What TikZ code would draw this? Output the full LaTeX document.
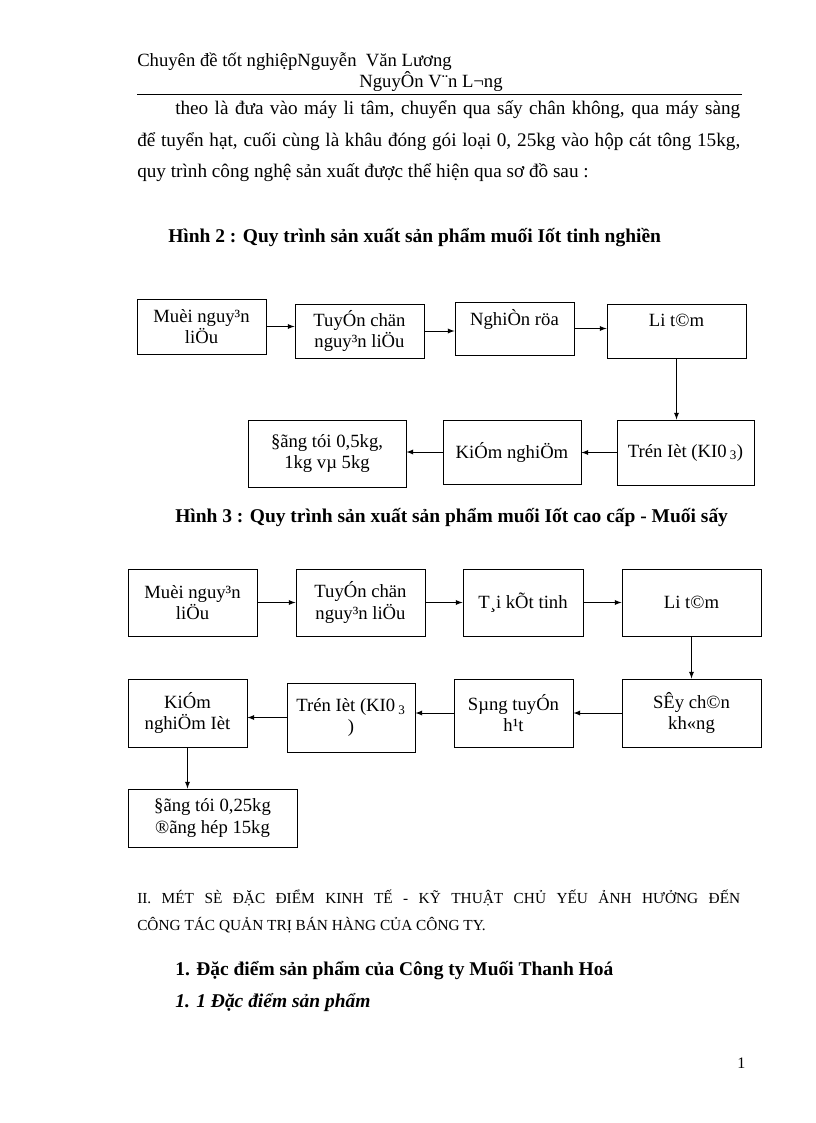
\documentclass[tikz,border=0pt]{standalone}
\usepackage{fontspec}
\setmainfont{Liberation Serif}

\begin{document}
\begin{tikzpicture}[x=0.75pt,y=-0.75pt,>=latex,
    procbox/.style={draw,line width=0.75pt,inner sep=0pt,align=center,
      font=\fontsize{14}{16}\selectfont},
    bodytext/.style={anchor=base west,inner sep=0pt,font=\fontsize{14.4}{17}\selectfont},
    boldtext/.style={bodytext,font=\fontsize{14.6}{17}\selectfont\bfseries}]
    \fill[white] (0,0) rectangle (816,1123);
    \useasboundingbox (0,0) rectangle (816,1123);

    \node[bodytext,font=\fontsize{14}{17}\selectfont] (hd1) at (137,67) {Chuyên đề tốt nghiệpNguyễn\ \ Văn Lương};
    \node[bodytext,anchor=base,font=\fontsize{14}{17}\selectfont] (hd2) at (431,88) {NguyÔn V¨n L¬ng};
    \draw[line width=0.75pt] (137,95) -- (742,95);

    \node[bodytext] (par1) at (175,115) {\makebox[423.75pt][s]{theo là đưa vào máy li tâm, chuyển qua sấy chân không, qua máy sàng}};
    \node[bodytext] (par2) at (137,147) {\makebox[452.25pt][s]{để tuyển hạt, cuối cùng là khâu đóng gói loại 0, 25kg vào hộp cát tông 15kg,}};
    \node[bodytext] (par3) at (137,178) {quy trình công nghệ sản xuất được thể hiện qua sơ đồ sau :};

    \node[boldtext] (cap2) at (168,243) {Hình 2 : Quy trình sản xuất sản phẩm muối Iốt tinh nghiền};

    \node[procbox,minimum width=96.75pt,minimum height=41.25pt] (a1) at (201.5,326.5) {Muèi nguy³n\\liÖu};
    \node[procbox,minimum width=96.75pt,minimum height=40.5pt] (a2) at (359.5,331) {TuyÓn chän\\nguy³n liÖu};
    \node[procbox,minimum width=89.25pt,minimum height=39.75pt] (a3) at (514.5,328.5) {NghiÒn röa\\\mbox{}};
    \node[procbox,minimum width=104.25pt,minimum height=40.5pt] (a4) at (676.5,331) {Li t©m\\\mbox{}};
    \node[procbox,minimum width=102.75pt,minimum height=48.75pt] (a5) at (685.5,452.5) {Trén Ièt (KI0\,\textsubscript{3})};
    \node[procbox,minimum width=103.5pt,minimum height=48pt] (a6) at (512,452) {KiÓm nghiÖm};
    \node[procbox,minimum width=118.5pt,minimum height=50.25pt] (a7) at (327,453.5) {§ãng tói 0,5kg,\\1kg vµ 5kg};
    \draw[->,line width=0.75pt] (a1.east) -- (a1.east -| a2.west);
    \draw[->,line width=0.75pt] (a2.east) -- (a2.east -| a3.west);
    \draw[->,line width=0.75pt] (a3.east) -- (a3.east -| a4.west);
    \draw[->,line width=0.75pt] (a4.south) -- (a4.south |- a5.north);
    \draw[->,line width=0.75pt] (a5.west) -- (a5.west -| a6.east);
    \draw[->,line width=0.75pt] (a6.west) -- (a6.west -| a7.east);

    \node[boldtext] (cap3) at (175,522) {Hình 3 : Quy trình sản xuất sản phẩm muối Iốt cao cấp - Muối sấy};

    \node[procbox,minimum width=96.75pt,minimum height=50.25pt] (b1) at (192.5,602.5) {Muèi nguy³n\\liÖu};
    \node[procbox,minimum width=96.75pt,minimum height=50.25pt] (b2) at (360.5,602.5) {TuyÓn chän\\nguy³n liÖu};
    \node[procbox,minimum width=90pt,minimum height=50.25pt] (b3) at (523,602.5) {T¸i kÕt tinh};
    \node[procbox,minimum width=104.25pt,minimum height=50.25pt] (b4) at (691.5,602.5) {Li t©m};
    \node[procbox,minimum width=104.25pt,minimum height=51pt] (b5) at (691.5,713) {SÊy ch©n\\kh«ng};
    \node[procbox,minimum width=89.25pt,minimum height=51pt] (b6) at (513.5,713) {Sµng tuyÓn\\h¹t};
    \node[procbox,minimum width=96pt,minimum height=51.75pt] (b7) at (351,717.5) {Trén Ièt (KI0\,\textsubscript{3}\\)};
    \node[procbox,minimum width=89.25pt,minimum height=51pt] (b8) at (187.5,713) {KiÓm\\nghiÖm Ièt};
    \node[procbox,minimum width=126.75pt,minimum height=43.5pt] (b9) at (212.5,818) {§ãng tói 0,25kg\\®ãng hép 15kg};
    \draw[->,line width=0.75pt] (b1.east) -- (b1.east -| b2.west);
    \draw[->,line width=0.75pt] (b2.east) -- (b2.east -| b3.west);
    \draw[->,line width=0.75pt] (b3.east) -- (b3.east -| b4.west);
    \draw[->,line width=0.75pt] (b4.south) -- (b4.south |- b5.north);
    \draw[->,line width=0.75pt] (b5.west) -- (b5.west -| b6.east);
    \draw[->,line width=0.75pt] (b6.west) -- (b6.west -| b7.east);
    \draw[->,line width=0.75pt] (b7.west) -- (b7.west -| b8.east);
    \draw[->,line width=0.75pt] (b8.south) -- (b8.south |- b9.north);

    \node[bodytext,font=\fontsize{11.5}{14}\selectfont] (sec1) at (137,903) {\makebox[452.25pt][s]{II. MÉT SÈ ĐẶC ĐIỂM KINH TẾ - KỸ THUẬT CHỦ YẾU ẢNH HƯỞNG ĐẾN}};
    \node[bodytext,font=\fontsize{11.5}{14}\selectfont] (sec2) at (137,930) {CÔNG TÁC QUẢN TRỊ BÁN HÀNG CỦA CÔNG TY.};
    \node[boldtext] (sub1) at (175,975) {1. Đặc điểm sản phẩm của Công ty Muối Thanh Hoá};
    \node[boldtext,font=\fontsize{14.6}{17}\selectfont\bfseries\itshape] (sub11) at (175,1007) {1. 1 Đặc điểm sản phẩm};
    \node[bodytext,font=\fontsize{12}{14}\selectfont] (pgno) at (737,1068) {1};
  \end{tikzpicture}
\end{document}
